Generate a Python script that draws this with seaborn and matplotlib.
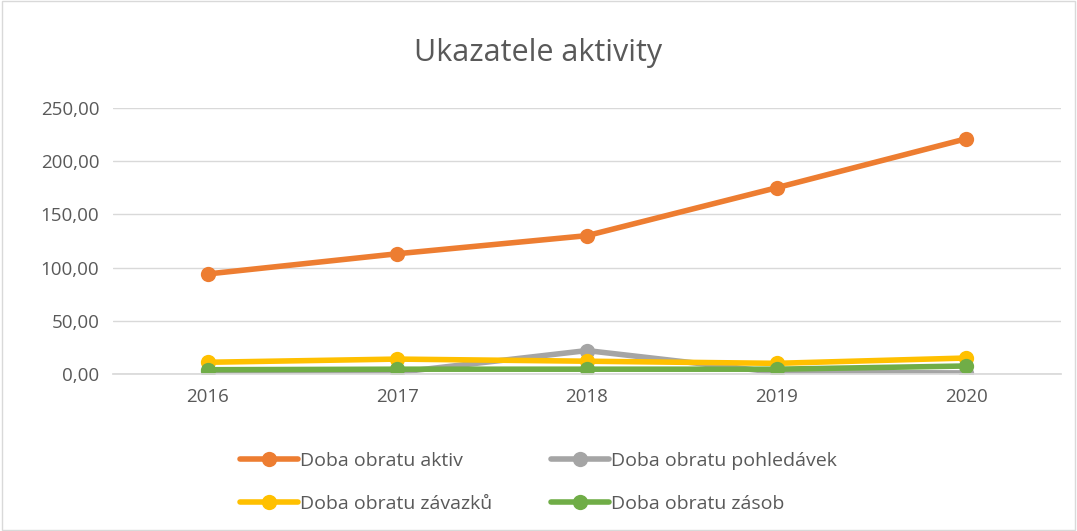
import pandas as pd
import seaborn as sns
import matplotlib.pyplot as plt
from matplotlib.ticker import FuncFormatter
from matplotlib.patches import Rectangle

#Data
years = ["2016", "2017", "2018", "2019", "2020"]
aktiv = [94, 113, 130, 175, 221]
pohledavek = [1.5, 1.5, 22, 1.5, 1.0]
zavazku = [11, 14, 12, 10, 15]
zasob = [4, 4.5, 4.5, 4.5, 7.5]

series = ["Doba obratu aktiv", "Doba obratu pohledávek", "Doba obratu závazků", "Doba obratu zásob"]
colors = ["#ED7D31", "#A5A5A5", "#FFC000", "#70AD47"]

df = pd.DataFrame({"Rok": years * 4,
                   "Hodnota": aktiv + pohledavek + zavazku + zasob,
                   "Ukazatel": [s for s in series for _ in years]})

sns.set_theme(style="white")
plt.rcParams['font.family'] = ['Open Sans', 'DejaVu Sans']

fig = plt.figure(figsize=(10.77, 5.31), dpi=100)
ax = fig.add_axes([0.105, 0.2957, 0.88, 0.501])

sns.lineplot(data=df, x="Rok", y="Hodnota", hue="Ukazatel", palette=colors,
             marker="o", markersize=11, markeredgewidth=0, linewidth=4,
             ax=ax, legend=False, sort=False)

ax.set_xlim(-0.5, 4.5)
ax.set_ylim(0, 250)
ax.set_yticks(range(0, 251, 50))
ax.yaxis.set_major_formatter(FuncFormatter(lambda v, p: f"{v:.2f}".replace(".", ",")))
ax.grid(axis="y", color="#D9D9D9", linewidth=1)
ax.set_axisbelow(True)
for s in ["top", "right", "left"]:
    ax.spines[s].set_visible(False)
ax.spines["bottom"].set_color("#D9D9D9")
ax.tick_params(axis="both", labelsize=13.5, colors="#595959", length=0, pad=10)
ax.set_xlabel("")
ax.set_ylabel("")

fig.text(0.5, 0.9, "Ukazatele aktivity", ha="center", va="center", fontsize=22, color="#595959")

# legend is filled column by column, so reorder to get rows like the original
order = [0, 2, 1, 3]
handles = [plt.Line2D([], [], color=colors[i], marker="o", markersize=11, linewidth=4, markeredgewidth=0) for i in order]
labels = [series[i] for i in order]
fig.legend(handles, labels, ncol=2, loc="center", bbox_to_anchor=(0.5, 0.092),
           frameon=False, fontsize=14, labelcolor="#595959", handlelength=3.0,
           handletextpad=0.1, columnspacing=3.0, labelspacing=1.3)

fig.patches.append(Rectangle((0.002, 0.002), 0.996, 0.996, transform=fig.transFigure,
                             fill=False, edgecolor="#D9D9D9", linewidth=1))

plt.savefig("out.png", dpi=100)
